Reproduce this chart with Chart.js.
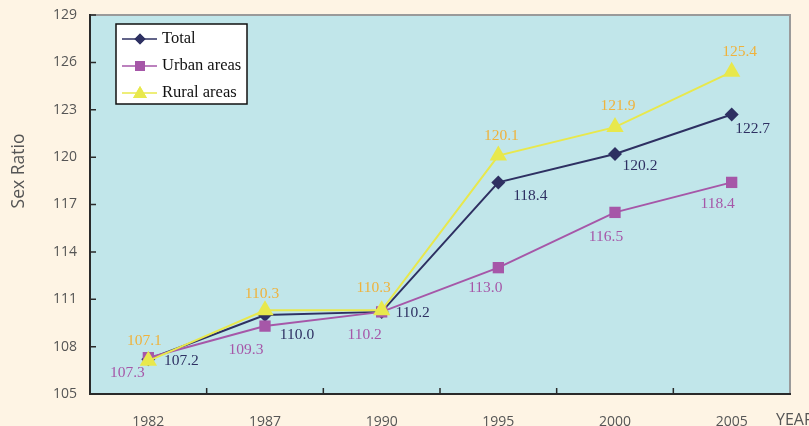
<!DOCTYPE html>
<html><head><meta charset="utf-8">
<script src="https://cdn.jsdelivr.net/npm/chart.js@4"></script>
<style>html,body{margin:0;padding:0;background:#FEF4E4;} canvas{display:block}</style>
</head><body>
<canvas id="c" width="809" height="426"></canvas>
<script>
// ---- data ----
const years = ['1982', '1987', '1990', '1995', '2000', '2005'];
const total = [107.2, 110.0, 110.2, 118.4, 120.2, 122.7];
const urban = [107.3, 109.3, 110.2, 113.0, 116.5, 118.4];
const rural = [107.1, 110.3, 110.3, 120.1, 121.9, 125.4];
const seriesNames = ['Total', 'Urban areas', 'Rural areas'];
const yMin = 105, yMax = 129, yStep = 3;
const yTitle = 'Sex Ratio';
const xTitle = 'YEAR';

// ---- styles ----
const C_TOTAL = '#2E3062', C_URBAN = '#A657A8', C_RURAL = '#E8E84C';
const LBL_COLORS = ['#2E3062', '#A657A8', '#EFB23C'];
// label offsets (dx, dy) relative to each point, per series
const LBL_OFF = [
  [[33,2],[32,20],[31,1],[32,14],[25,12],[21,14]],
  [[-21,15],[-19,24],[-17,23],[-13,20],[-9,25],[-14,22]],
  [[-4,-20],[-3,-16],[-8,-22],[3,-20],[3,-21],[8,-20]]
];
const TICK_FONT = '"Open Sans", "Noto Sans", sans-serif';

const deco = {
  id: 'deco',
  beforeDatasetsDraw(chart) {
    const {ctx, chartArea: a} = chart;
    ctx.save();
    ctx.fillStyle = '#C1E6EA';
    ctx.fillRect(a.left, a.top, a.right - a.left, a.bottom - a.top);
    ctx.restore();
  },
  afterDatasetsDraw(chart) {
    const {ctx, chartArea: a, scales} = chart;
    ctx.save();
    // top / right border
    ctx.strokeStyle = '#9A9A9A'; ctx.lineWidth = 2;
    ctx.beginPath(); ctx.moveTo(a.left, a.top); ctx.lineTo(a.right, a.top); ctx.lineTo(a.right, a.bottom); ctx.stroke();
    // axes
    ctx.strokeStyle = '#2A2A2A'; ctx.lineWidth = 2;
    ctx.beginPath(); ctx.moveTo(a.left, a.top - 1); ctx.lineTo(a.left, a.bottom); ctx.lineTo(a.right + 1, a.bottom); ctx.stroke();
    // inward ticks
    ctx.lineWidth = 1.5;
    ctx.beginPath();
    scales.y.ticks.forEach((t) => {
      const y = scales.y.getPixelForValue(t.value);
      ctx.moveTo(a.left, y); ctx.lineTo(a.left + 6, y);
    });
    const n = years.length;
    for (let i = 1; i < n; i++) {
      const x = (scales.x.getPixelForValue(i - 1) + scales.x.getPixelForValue(i)) / 2;
      ctx.moveTo(x, a.bottom); ctx.lineTo(x, a.bottom - 6);
    }
    ctx.stroke();

    // data labels
    ctx.font = '15.5px "Liberation Serif", "Times New Roman", serif';
    ctx.textAlign = 'center'; ctx.textBaseline = 'middle';
    chart.data.datasets.forEach((ds, di) => {
      const meta = chart.getDatasetMeta(di);
      ctx.fillStyle = LBL_COLORS[di];
      meta.data.forEach((pt, i) => {
        const [dx, dy] = LBL_OFF[di][i];
        ctx.fillText(ds.data[i].toFixed(1), pt.x + dx, pt.y + dy);
      });
    });

    // legend
    const lx = 116, ly = 24, lw = 131, lh = 80;
    ctx.fillStyle = '#FFFFFF'; ctx.fillRect(lx, ly, lw, lh);
    ctx.strokeStyle = '#111'; ctx.lineWidth = 1.5; ctx.strokeRect(lx, ly, lw, lh);
    const rows = [39, 66, 93];
    const styles = [['rectRot', 5.5], ['rect', 7], ['triangle', 8]];
    chart.data.datasets.forEach((ds, di) => {
      const y = rows[di];
      ctx.strokeStyle = ds.borderColor; ctx.lineWidth = 1.5;
      ctx.beginPath(); ctx.moveTo(122, y); ctx.lineTo(157, y); ctx.stroke();
      ctx.fillStyle = ds.backgroundColor;
      Chart.helpers.drawPoint(ctx, {pointStyle: styles[di][0], radius: styles[di][1], borderWidth: 0, rotation: 0}, 140, y + (di === 2 ? 1 : 0));
      ctx.fill();
      ctx.fillStyle = '#111';
      ctx.font = '16.5px "Liberation Serif", "Times New Roman", serif';
      ctx.textAlign = 'left'; ctx.textBaseline = 'middle';
      ctx.fillText(ds.label, 162, y);
    });

    // titles
    ctx.fillStyle = '#555555';
    ctx.font = '16px ' + TICK_FONT;
    ctx.textAlign = 'left'; ctx.textBaseline = 'middle';
    ctx.fillText(xTitle, 776, 420);
    ctx.font = '17.5px ' + TICK_FONT;
    ctx.translate(19, 171); ctx.rotate(-Math.PI / 2);
    ctx.textAlign = 'center';
    ctx.fillText(yTitle, 0, 0);
    ctx.restore();
  }
};

const mk = (label, data, color, style, r, order) => ({
  label, data, borderColor: color, backgroundColor: color,
  pointBackgroundColor: color, pointBorderColor: color, pointBorderWidth: 0,
  pointStyle: style, pointRadius: r, borderWidth: 2, tension: 0, order
});

new Chart(document.getElementById('c'), {
  type: 'line',
  data: {
    labels: years,
    datasets: [
      mk(seriesNames[0], total, C_TOTAL, 'rectRot', 7, 2),
      mk(seriesNames[1], urban, C_URBAN, 'rect', 8, 1),
      mk(seriesNames[2], rural, C_RURAL, 'triangle', 10, 0)
    ]
  },
  options: {
    responsive: false, animation: false,
    layout: {padding: {left: 0, top: 15, right: 19, bottom: 0}},
    plugins: {legend: {display: false}, tooltip: {enabled: false}},
    scales: {
      x: {
        offset: true,
        grid: {display: false, drawTicks: false},
        border: {display: false},
        ticks: {color: '#555555', font: {family: TICK_FONT, size: 14}, padding: 20, maxRotation: 0},
        afterFit: (s) => { s.height = 32; s.paddingLeft = 0; s.paddingRight = 0; }
      },
      y: {
        min: yMin, max: yMax,
        grid: {display: false, drawTicks: false},
        border: {display: false},
        ticks: {stepSize: yStep, color: '#555555', font: {family: TICK_FONT, size: 14}, padding: 13},
        afterFit: (s) => { s.width = 90; s.paddingTop = 0; s.paddingBottom = 0; }
      }
    }
  },
  plugins: [deco]
});
</script>
</body></html>
